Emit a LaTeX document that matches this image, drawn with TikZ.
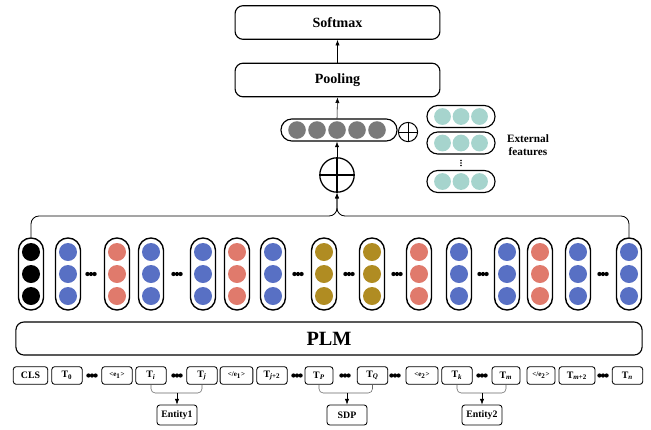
\documentclass[tikz,border=0pt]{standalone}
\usepackage{fontspec}
\setmainfont{Liberation Serif}
\usetikzlibrary{arrows.meta}

\definecolor{embblue}{HTML}{5870C4}
\definecolor{embred}{HTML}{E07A6C}
\definecolor{embgold}{HTML}{B08C22}
\definecolor{embgray}{HTML}{7A7A7A}
\definecolor{embteal}{HTML}{A6D4CD}
\definecolor{linkgray}{HTML}{666666}

\begin{document}
\begin{tikzpicture}[x=0.025cm,y=-0.025cm,
    layer/.style={draw,line width=0.8pt,rounded corners=0.2cm,minimum width=5.12cm,minimum height=0.84cm,font=\bfseries},
    emb/.style={draw,line width=1pt,rounded corners=0.31cm,minimum width=0.625cm,minimum height=1.8cm,inner sep=0},
    vecbox/.style={draw,line width=0.8pt,rounded corners=0.27cm,minimum height=0.55cm,inner sep=0},
    tok/.style={draw,line width=0.6pt,rounded corners=2pt,minimum width=0.76cm,minimum height=0.44cm,inner sep=1pt,font=\bfseries\scriptsize},
    tag/.style={tok,font=\bfseries\tiny},
    ent/.style={draw,line width=0.6pt,rounded corners=2pt,minimum width=1cm,minimum height=0.5cm,inner sep=1pt,font=\bfseries\scriptsize},
    oplus/.style={draw,circle,inner sep=0,path picture={
        \draw (path picture bounding box.north) -- (path picture bounding box.south)
              (path picture bounding box.west) -- (path picture bounding box.east);}},
    >={Latex[length=4pt,width=3pt]}]
  \useasboundingbox (0,0) rectangle (651,429);

  % output layers
  \node[layer] (soft) at (337.5,22.5) {Softmax};
  \node[layer] (pool) at (337.5,80) {Pooling};
  \draw[->] (pool.north) -- (soft.south);

  % pooled vector plus external features
  \node[vecbox,minimum width=2.9cm] (vec) at (339,130) {};
  \foreach \x in {297,317,337,357,377}
    \fill[embgray] (\x,130) circle (0.22cm);
  \node[oplus,line width=0.7pt,minimum size=0.48cm] (add) at (408,132) {};
  \node[vecbox,minimum width=1.7cm] (ext1) at (461,116.5) {};
  \node[vecbox,minimum width=1.7cm] (ext2) at (461,143) {};
  \node[vecbox,minimum width=1.7cm] (ext3) at (461,181.5) {};
  \foreach \e/\y in {ext1/116.5,ext2/143,ext3/181.5}
    \foreach \x in {442.5,461,479.5}
      \fill[embteal] (\x,\y) circle (0.21cm);
  \foreach \y in {160.5,163,165.5}
    \fill (461,\y) circle (0.7pt);
  \node[font=\bfseries\footnotesize,align=center] (feat) at (528,145) {External\\features};

  \node[oplus,line width=0.9pt,minimum size=0.86cm] (plus) at (337,175) {};
  \draw[->] (plus.north) -- (plus.north |- vec.south);
  \draw[->] (plus.north |- vec.north) -- (pool.south);

  % token embeddings from the encoder
  \foreach \x/\c [count=\i] in {31/black,68/embblue,117/embred,151/embblue,203/embblue,
      237/embred,273/embblue,324/embgold,372/embgold,419/embred,459/embblue,
      507/embblue,540/embred,578/embblue,629/embblue}{
    \node[emb] (c\i) at (\x,274) {};
    \foreach \y in {252,274,296}
      \fill[\c] (\x,\y) circle (0.225cm);
  }
  \foreach \x in {91,177,298,349,397,483,603}
    \foreach \d in {-3.6,0,3.6}
      \fill (\x+\d,274) circle (1.5pt);

  \coordinate (bus) at (337,216);
  \draw[->,line width=0.6pt,rounded corners=0.2cm] (c1.north) |- (bus) -- (plus.south);
  \draw[->,line width=0.6pt,rounded corners=0.2cm] (c15.north) |- (bus) -- (plus.south);

  \node[layer,minimum width=15.65cm,minimum height=0.825cm,font=\bfseries\Large] (plm) at (329,338.5) {PLM};

  % input tokens
  \node[tok,minimum width=0.86cm] (cls) at (30.5,375.5) {CLS};
  \node[tok] (t0) at (67,375.5) {T\textsubscript{0}};
  \node[tag] (e1s) at (117,375.5) {<e\textsubscript{1}>};
  \node[tok] (ti) at (151,375.5) {T\textsubscript{\textit{i}}};
  \node[tok] (tj) at (202,375.5) {T\textsubscript{\textit{j}}};
  \node[tag,minimum width=0.82cm] (e1e) at (236.5,375.5) {</e\textsubscript{1}>};
  \node[tok] (tj2) at (272,375.5) {T\textsubscript{\textit{j}+2}};
  \node[tok,minimum width=0.7cm] (tp) at (319,375.5) {T\textsubscript{\textit{P}}};
  \node[tok] (tq) at (372.5,375.5) {T\textsubscript{\textit{Q}}};
  \node[tag,minimum width=0.8cm] (e2s) at (422,375.5) {<e\textsubscript{2}>};
  \node[tok] (tk) at (457,375.5) {T\textsubscript{\textit{k}}};
  \node[tok,minimum width=0.7cm] (tm) at (506,375.5) {T\textsubscript{\textit{m}}};
  \node[tag,minimum width=0.7cm] (e2e) at (541,375.5) {</e\textsubscript{2}>};
  \node[tok,minimum width=0.9cm] (tm2) at (577,375.5) {T\textsubscript{\textit{m}+2}};
  \node[tok] (tn) at (627.5,375.5) {T\textsubscript{\textit{n}}};
  \foreach \x in {92,177,297,345,395,482,603}
    \foreach \d in {-3.6,0,3.6}
      \fill (\x+\d,375.5) circle (1.5pt);

  % spans fed to the pooling
  \node[ent] (ent1) at (177,415) {Entity1};
  \node[ent] (sdp) at (347,415) {SDP};
  \node[ent] (ent2) at (482,415) {Entity2};
  \coordinate (b1) at (177,393);
  \coordinate (b2) at (347,393);
  \coordinate (b3) at (482,393);
  \draw[linkgray,rounded corners=3pt] (ti.south) |- (b1) -| (tj.south);
  \draw[linkgray,rounded corners=3pt] (tp.south) |- (b2) -| (tq.south);
  \draw[linkgray,rounded corners=3pt] (tk.south) |- (b3) -| (tm.south);
  \draw[->] (b1) -- (ent1);
  \draw[->] (b2) -- (sdp);
  \draw[->] (b3) -- (ent2);
\end{tikzpicture}
\end{document}
